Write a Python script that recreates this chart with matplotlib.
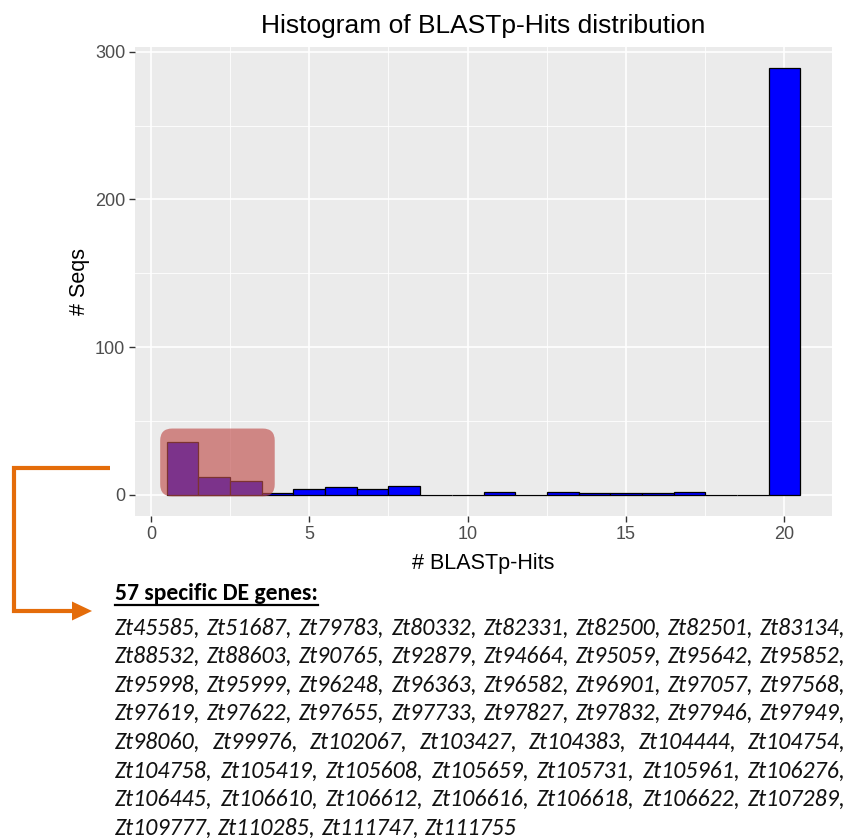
import matplotlib
matplotlib.use("Agg")
import matplotlib.pyplot as plt
import numpy as np
from matplotlib import font_manager
from matplotlib.patches import FancyBboxPatch, Polygon
from matplotlib.lines import Line2D

W, H = 847, 838

# Histogram data (binwidth = 1)
hits = np.arange(1, 21)
counts = [36, 12, 9, 1, 4, 5, 4, 6, 0, 0, 2, 0, 2, 1, 1, 1, 2, 0, 0, 289]
x_ticks = [0, 5, 10, 15, 20]
y_ticks = [0, 100, 200, 300]
n_highlight = 3  # first bins marked by the red box

title = "Histogram of BLASTp-Hits distribution"
x_label = "# BLASTp-Hits"
y_label = "# Seqs"
header = "57 specific DE genes:"
gene_lines = [
    ["Zt45585", "Zt51687", "Zt79783", "Zt80332", "Zt82331", "Zt82500", "Zt82501", "Zt83134"],
    ["Zt88532", "Zt88603", "Zt90765", "Zt92879", "Zt94664", "Zt95059", "Zt95642", "Zt95852"],
    ["Zt95998", "Zt95999", "Zt96248", "Zt96363", "Zt96582", "Zt96901", "Zt97057", "Zt97568"],
    ["Zt97619", "Zt97622", "Zt97655", "Zt97733", "Zt97827", "Zt97832", "Zt97946", "Zt97949"],
    ["Zt98060", "Zt99976", "Zt102067", "Zt103427", "Zt104383", "Zt104444", "Zt104754"],
    ["Zt104758", "Zt105419", "Zt105608", "Zt105659", "Zt105731", "Zt105961", "Zt106276"],
    ["Zt106445", "Zt106610", "Zt106612", "Zt106616", "Zt106618", "Zt106622", "Zt107289"],
    ["Zt109777", "Zt110285", "Zt111747", "Zt111755"],
]

# fonts
names = {f.name for f in font_manager.fontManager.ttflist}
body_font = next((n for n in ["Carlito", "Open Sans", "Noto Sans"] if n in names), "DejaVu Sans")
plot_font = "Liberation Sans" if "Liberation Sans" in names else "DejaVu Sans"
orange = "#E46C0A"


def fx(x):
    return x / W


def fy(y):
    return 1 - y / H


fig = plt.figure(figsize=(W / 100, H / 100), dpi=100)
fig.patch.set_facecolor("white")

# ggplot-like panel
ax = fig.add_axes([fx(135), fy(516), (832 - 135) / W, (516 - 46.7) / H])
ax.set_facecolor("#EBEBEB")
ax.bar(hits, counts, width=1, color="blue", edgecolor="black", linewidth=0.9, zorder=3)

top = max(counts)
span = hits[-1] - hits[0] + 1
ax.set_xlim(hits[0] - 0.5 - 0.05 * span, hits[-1] + 0.5 + 0.05 * span)
ax.set_ylim(-0.05 * top, 1.05 * top)
ax.set_xticks(x_ticks)
ax.set_yticks(y_ticks)
ax.set_xticks([2.5, 7.5, 12.5, 17.5], minor=True)
ax.set_yticks([50, 150, 250], minor=True)
ax.set_axisbelow(True)
ax.grid(which="major", color="white", linewidth=1.2)
ax.grid(which="minor", color="white", linewidth=0.6)
for s in ax.spines.values():
    s.set_visible(False)
ax.tick_params(which="minor", length=0)
ax.tick_params(which="major", length=4, width=1, color="#333333",
               labelcolor="#4D4D4D", labelsize=13, pad=3)
for lab in ax.get_xticklabels() + ax.get_yticklabels():
    lab.set_fontfamily(plot_font)

ax.set_xlabel(x_label, fontsize=15.5, family=plot_font, color="black")
ax.set_ylabel(y_label, fontsize=15.5, family=plot_font, color="black")
ax.xaxis.set_label_coords(0.5, -0.078)
ax.yaxis.set_label_coords(-0.064, 0.5)

fig.text(fx(483.5), fy(26), title, fontsize=19, family=plot_font,
         ha="center", va="center", color="black")

# red highlight over the first bins (pixel space)
x0, y0 = ax.transData.transform((hits[0] - 0.5, 0))
x1, _ = ax.transData.transform((hits[n_highlight - 1] + 0.5, 0))
_, y1 = ax.transData.transform((0, max(counts[:n_highlight])))
box = FancyBboxPatch((x0 - 6.5, y0 - 1.7), (x1 + 13) - (x0 - 6.5), (y1 + 13) - (y0 - 1.7),
                     boxstyle="round,pad=0,rounding_size=12", transform=None,
                     facecolor="#C0504D", edgecolor="none", alpha=0.65, zorder=5)
fig.add_artist(box)

# orange elbow arrow
fig.add_artist(Line2D([fx(110), fx(14), fx(14), fx(74)],
                      [fy(467.7), fy(467.7), fy(611), fy(611)],
                      color=orange, linewidth=3, solid_joinstyle="miter",
                      solid_capstyle="butt", transform=fig.transFigure))
fig.add_artist(Polygon([(fx(72), fy(601.5)), (fx(92), fy(611)), (fx(72), fy(620.5))],
                       closed=True, facecolor=orange, edgecolor="none",
                       transform=fig.transFigure))

# header with underline
renderer = fig.canvas.get_renderer()
hdr = fig.text(fx(115), fy(594), header, fontsize=17, weight="bold",
               family=body_font, va="center", ha="left", color="black")
hb = hdr.get_window_extent(renderer)
fig.add_artist(Line2D([fx(115), fx(115 + hb.width)], [fy(605), fy(605)],
                      color="black", linewidth=1.6, transform=fig.transFigure))

# justified gene list
left_px, right_px = 115, 846
line0, step = 628, 28.6
fs = 17.2
probe_a = fig.text(0, 0, "x x", fontsize=fs, style="italic", family=body_font)
probe_b = fig.text(0, 0, "xx", fontsize=fs, style="italic", family=body_font)
space_w = probe_a.get_window_extent(renderer).width - probe_b.get_window_extent(renderer).width
probe_a.remove()
probe_b.remove()

for i, words in enumerate(gene_lines):
    last = i == len(gene_lines) - 1
    items = [w + "," for w in words]
    if last:
        items[-1] = words[-1]
    texts = [fig.text(0, fy(line0 + i * step), s, fontsize=fs, style="italic",
                      family=body_font, va="center", ha="left", color="#111111")
             for s in items]
    widths = [t.get_window_extent(renderer).width for t in texts]
    if last:
        gap = space_w
    else:
        gap = (right_px - left_px - sum(widths)) / (len(items) - 1)
    x = left_px
    for t, w in zip(texts, widths):
        t.set_x(fx(x))
        x += w + gap

fig.savefig("out.png", dpi=100)
